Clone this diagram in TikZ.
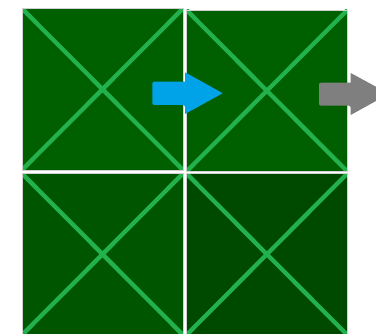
\documentclass[tikz,border=0pt]{standalone}
\definecolor{sqA}{RGB}{0,96,0}
\definecolor{sqB}{RGB}{0,86,0}
\definecolor{sqC}{RGB}{0,74,0}
\definecolor{diagc}{RGB}{34,177,76}
\definecolor{arrblue}{RGB}{0,162,232}
\definecolor{arrgray}{RGB}{127,127,127}
\begin{document}
\begin{tikzpicture}[x=1pt,y=1pt,
  sq/.style={inner sep=0pt, outer sep=0pt, minimum width=161pt, minimum height=161.5pt, anchor=south west},
  rim/.style={draw=black!18, line width=0.6pt},
  diag/.style={draw=diagc, line width=4.3pt}]
\useasboundingbox (0,0) rectangle (376,334);
\clip (0,0) rectangle (376,334);
\node[sq, fill=sqA] (tl) at (22,164) {};
\node[sq, fill=sqA, minimum width=160.8pt] (tr) at (186.5,162.5) {};
\node[sq, fill=sqB] (bl) at (22,-1) {};
\node[sq, fill=sqC, minimum width=160.8pt] (br) at (186.5,-1) {};
\foreach \n in {tl,tr,bl,br}{
  \begin{scope}
    \clip (\n.south west) rectangle (\n.north east);
    \draw[diag] (\n.north west) -- (\n.south east) (\n.south west) -- (\n.north east);
  \end{scope}
  \draw[rim] (\n.south west) rectangle (\n.north east);
}
% blue arrow
\fill[arrblue] (185,229) [sharp corners] -- (185,220) -- (222.7,240.8) -- (185,261.7) -- (185,252.3) [rounded corners=2pt] -- (152.3,252.3) -- (152.3,229) -- cycle;
% gray arrow
\fill[arrgray] (350.7,228.3) [sharp corners] -- (350.7,219) -- (389,240.2) -- (350.7,261) -- (350.7,251.3) [rounded corners=2pt] -- (319,251.3) -- (319,228.3) -- cycle;
\end{tikzpicture}
\end{document}
